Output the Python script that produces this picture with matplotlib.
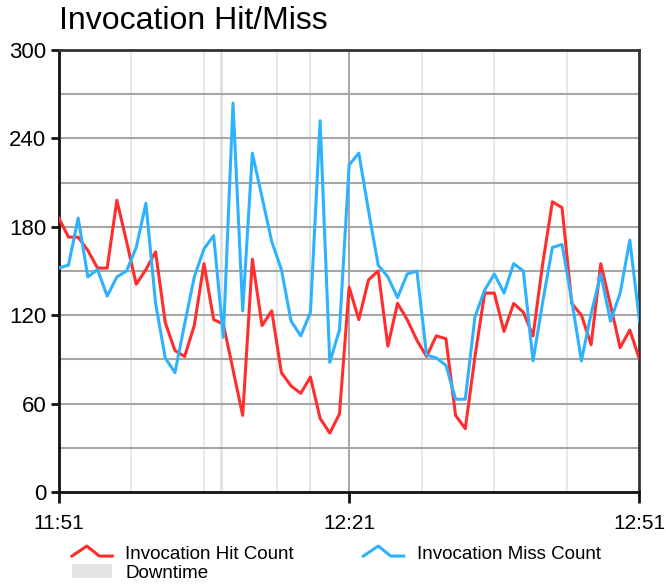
import numpy as np
import matplotlib.pyplot as plt
from matplotlib.lines import Line2D
from matplotlib.patches import Patch
from matplotlib.legend_handler import HandlerBase

# Minutes since 11:51, one sample per minute
minutes = list(range(61))

hit_counts = [186, 173, 173, 164, 152, 152, 198, 170, 141, 151,
              163, 115, 96, 92, 113, 155, 117, 114, 83, 52,
              158, 113, 123, 81, 72, 67, 78, 50, 40, 53,
              139, 117, 144, 150, 99, 128, 117, 103, 92, 106,
              104, 52, 43, 92, 135, 135, 109, 128, 122, 106,
              155, 197, 193, 128, 120, 100, 155, 127, 98, 110,
              90]

miss_counts = [152, 154, 186, 146, 151, 133, 146, 150, 166, 196,
               128, 91, 81, 114, 146, 165, 174, 105, 264, 123,
               230, 200, 170, 151, 116, 106, 122, 252, 88, 110,
               222, 230, 191, 154, 146, 132, 148, 150, 93, 91,
               86, 63, 63, 119, 137, 148, 135, 155, 150, 89,
               129, 166, 168, 130, 89, 121, 148, 116, 135, 171,
               116]

# Downtime windows (minutes since 11:51)
downtime_start = [16.7, 25.8]
downtime_end = [17.0, 26.1]

x_ticks = [0, 30, 60]
x_labels = ["11:51", "12:21", "12:51"]
y_ticks = [0, 60, 120, 180, 240, 300]

red = "#ff2d2d"
blue = "#2eb2ff"


class ZigzagHandler(HandlerBase):
    # small peaked line used as the legend key
    def create_artists(self, legend, orig_handle, xdescent, ydescent,
                       width, height, fontsize, trans):
        xs = np.array([0.0, 0.37, 0.68, 1.0]) * width - xdescent
        ys = np.array([0.25, 0.95, 0.25, 0.25]) * height - ydescent
        ln = Line2D(xs, ys, color=orig_handle.get_color(), lw=2.2)
        ln.set_transform(trans)
        return [ln]


plt.rcParams['font.family'] = ['Liberation Sans', 'DejaVu Sans']

fig = plt.figure(figsize=(6.66, 5.87), dpi=100)
ax = fig.add_axes([0.0883, 0.1618, 0.8719, 0.753])

for s, e in zip(downtime_start, downtime_end):
    ax.axvspan(s, e, color="#e3e3e3", lw=0, zorder=0)

# grid
for gx in [7.5, 15, 22.5, 37.5, 45, 52.5]:
    ax.axvline(gx, color="#e6e6e6", lw=1.3, zorder=0.5)
ax.axvline(30, color="#a0a0a0", lw=1.3, zorder=0.5)
for gy in range(30, 300, 30):
    ax.axhline(gy, color="#a6a6a6", lw=1.5, zorder=0.6)

h_hit, = ax.plot(minutes, hit_counts, color=red, lw=2.2, zorder=3,
                 label="Invocation Hit Count")
h_miss, = ax.plot(minutes, miss_counts, color=blue, lw=2.2, zorder=4,
                  label="Invocation Miss Count")

ax.set_xlim(0, 60)
ax.set_ylim(0, 300)
ax.set_xticks(x_ticks)
ax.set_xticklabels(x_labels)
ax.set_yticks(y_ticks)
ax.tick_params(axis="both", width=2, color="#111111")
ax.tick_params(axis="y", length=6, pad=3, labelsize=16)
ax.tick_params(axis="x", length=8, pad=8, labelsize=15)

for side in ["left", "bottom"]:
    ax.spines[side].set_color("#111111")
    ax.spines[side].set_linewidth(2)
for side in ["top", "right"]:
    ax.spines[side].set_color("#333333")
    ax.spines[side].set_linewidth(2)

fig.text(0.089, 0.965, "Invocation Hit/Miss", fontsize=23, va="center",
         ha="left")

down_patch = Patch(facecolor="#e3e3e3", edgecolor="none", label="Downtime")
leg = fig.legend(handles=[h_hit, down_patch, h_miss],
                 labels=["Invocation Hit Count", "Downtime",
                         "Invocation Miss Count"],
                 handler_map={Line2D: ZigzagHandler()},
                 ncol=2, loc="upper left", bbox_to_anchor=(0.108, 0.071),
                 frameon=False, fontsize=13.5, handlelength=2.15,
                 handleheight=0.8, handletextpad=0.7, columnspacing=3.7,
                 labelspacing=0.05, borderpad=0, borderaxespad=0)

fig.savefig("out.png", dpi=100)
